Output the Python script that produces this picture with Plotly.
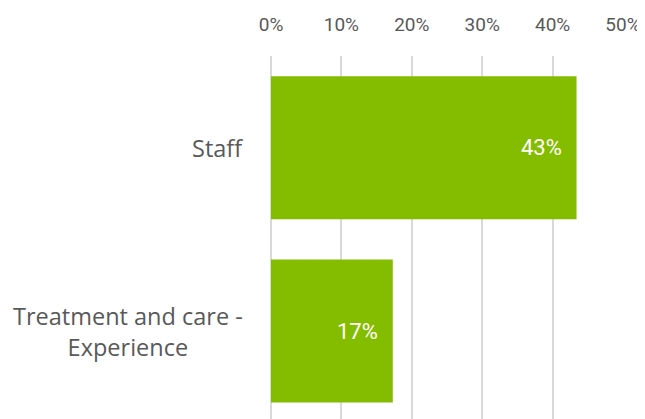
import plotly.graph_objects as go

categories = ["Staff", "Treatment and care -<br>Experience"]
values = [0.434, 0.173]
labels = ["43%", "17%"]
tick_vals = [0, 0.1, 0.2, 0.3, 0.4, 0.5]
tick_text = ["0%", "10%", "20%", "30%", "40%", "50%"]

NUMFONT = "Roboto, Open Sans, sans-serif"

fig = go.Figure()
fig.add_trace(go.Bar(
    x=values, y=list(range(len(categories))), orientation="h",
    marker=dict(color="#84BD00", line=dict(width=0)),
    hoverinfo="skip",
))

for i, (v, t) in enumerate(zip(values, labels)):
    fig.add_annotation(x=v, y=i, xref="x", yref="y", text=t, showarrow=False,
                       xanchor="right", xshift=-13,
                       font=dict(family=NUMFONT, size=22, color="white"))

for i, c in enumerate(categories):
    fig.add_annotation(x=0, y=i, xref="paper", yref="y", text=c, showarrow=False,
                       xanchor="right", xshift=-26, align="center",
                       font=dict(family="Open Sans", size=23.5, color="#595959"))

fig.update_layout(
    width=637, height=411,
    margin=dict(l=263, r=22, t=48, b=0),
    plot_bgcolor="white", paper_bgcolor="white",
    bargap=0.22, showlegend=False,
    xaxis=dict(side="top", range=[0, 0.5], tickvals=tick_vals, ticktext=tick_text,
               showgrid=True, gridcolor="#D9D9D9", gridwidth=1.5,
               zeroline=True, zerolinecolor="#D9D9D9", zerolinewidth=1.5,
               showline=False, ticks="", ticklabelstandoff=20,
               tickfont=dict(family=NUMFONT, size=19, color="#595959")),
    yaxis=dict(range=[1.48, -0.5], showticklabels=False, showgrid=False,
               zeroline=False, showline=False),
)

fig.write_html("out.html")
